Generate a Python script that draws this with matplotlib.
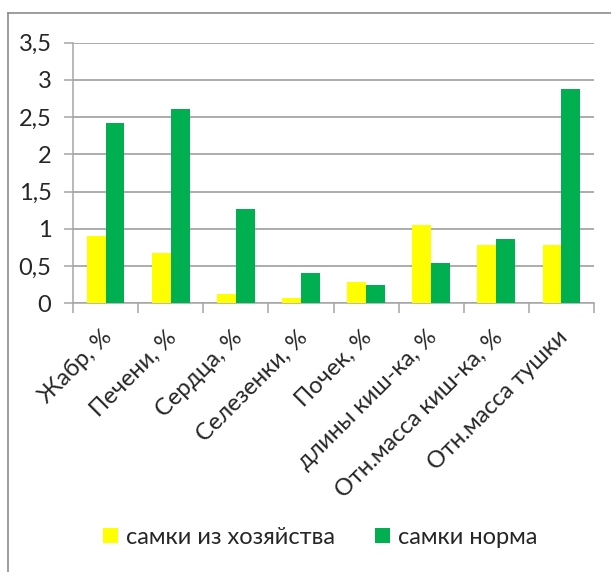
import numpy as np
import matplotlib
matplotlib.use("Agg")
import matplotlib.pyplot as plt
from matplotlib.lines import Line2D
from matplotlib.patches import Patch

plt.rcParams['font.family'] = ['Lato', 'DejaVu Sans']

# показатели
categories = ["Жабр, %", "Печени, %", "Сердца, %", "Селезенки, %", "Почек, %",
              "длины киш-ка, %", "Отн.масса киш-ка, %", "Отн.масса тушки"]
farm = [0.90, 0.68, 0.12, 0.07, 0.29, 1.05, 0.78, 0.78]
norm = [2.42, 2.61, 1.26, 0.41, 0.24, 0.545, 0.87, 2.88]
y_ticks = [0, 0.5, 1, 1.5, 2, 2.5, 3, 3.5]
y_labels = ["0", "0,5", "1", "1,5", "2", "2,5", "3", "3,5"]
series_names = ["самки из хозяйства", "самки норма"]

yellow = "#FFFF00"
green = "#00B050"
grid_c = "#A6A6A6"
text_c = "#262626"
fs = 17

fig = plt.figure(figsize=(6.11, 5.72), dpi=100)
ax = fig.add_axes([0.1195, 0.4698, 0.8527, 0.4555])

x = np.arange(len(categories))
w = 0.29
ax.bar(x - w / 2, farm, width=w, color=yellow, zorder=3)
ax.bar(x + w / 2, norm, width=w, color=green, zorder=3)

ax.set_xlim(-0.5, len(categories) - 0.5)
ax.set_ylim(0, 3.5)
ax.set_yticks(y_ticks)
ax.set_yticklabels(y_labels, fontsize=17, color=text_c)
ax.yaxis.grid(True, color=grid_c, linewidth=1.3, zorder=0)
ax.tick_params(axis="y", length=6.5, width=1.1, color=grid_c, pad=9)

# подписи по центру, засечки между категориями
ax.set_xticks(x)
ax.set_xticklabels([])
ax.set_xticks(np.arange(-0.5, len(categories)), minor=True)
ax.tick_params(axis="x", which="major", length=0)
ax.tick_params(axis="x", which="minor", length=7, width=1.1, color=grid_c)
for xi, lab in zip(x, categories):
    ax.annotate(lab, xy=(xi, 0), xycoords=("data", "axes fraction"),
                xytext=(2, -22), textcoords="offset points",
                rotation=45, ha="right", va="center", rotation_mode="anchor",
                fontsize=fs, color=text_c)

for side in ["top", "right"]:
    ax.spines[side].set_visible(False)
ax.spines["left"].set_color(grid_c)
ax.spines["bottom"].set_color(grid_c)
ax.spines["left"].set_linewidth(1.1)
ax.spines["bottom"].set_linewidth(1.1)

handles = [Patch(facecolor=yellow), Patch(facecolor=green)]
fig.legend(handles, series_names, loc="center", bbox_to_anchor=(0.524, 0.061),
           ncol=2, frameon=False, fontsize=fs, handlelength=0.62,
           handleheight=0.62, handletextpad=0.35, columnspacing=1.7,
           labelcolor=text_c)

# рамка области диаграммы
fig.add_artist(Line2D([8 / 611, 1.0], [1 - 13 / 572, 1 - 13 / 572],
                      transform=fig.transFigure, color="#8C8C8C", linewidth=1.2))
fig.add_artist(Line2D([8 / 611, 8 / 611], [0, 1 - 13 / 572],
                      transform=fig.transFigure, color="#8C8C8C", linewidth=1.2))

fig.savefig("out.png", dpi=100)
